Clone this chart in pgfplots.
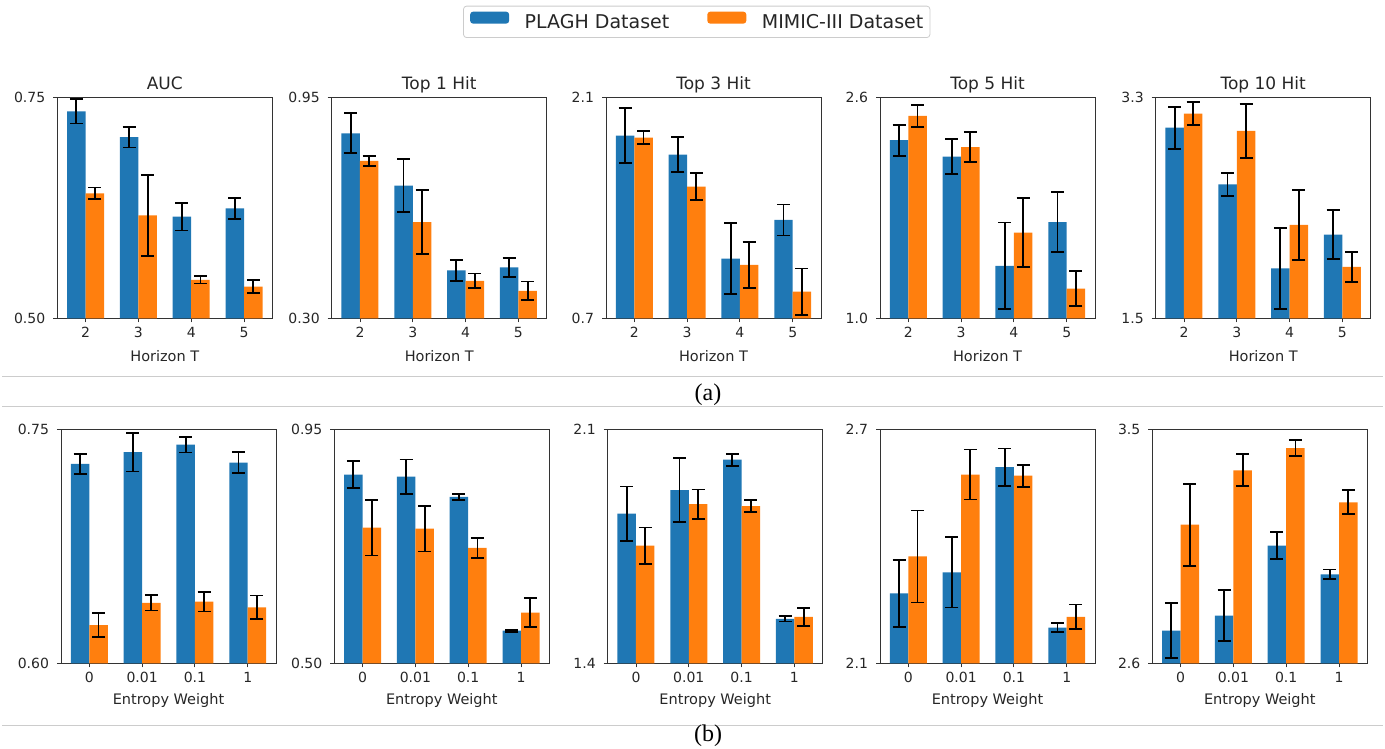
\documentclass[border=0pt]{standalone}
\usepackage{fontspec}
\setmainfont{DejaVu Sans}
\newfontfamily\capfont{Liberation Serif}
\usepackage{pgfplots}
\usepackage{pgfplotstable}
\pgfplotsset{compat=1.18}
\definecolor{tabblue}{HTML}{1F77B4}
\definecolor{taborange}{HTML}{FF7F0E}

% columns: x, PLAGH mean, PLAGH err, MIMIC mean, MIMIC err
\pgfplotstableread{
x b be o oe
0 0.734 0.0137 0.6414 0.0066
1 0.7048 0.0115 0.6165 0.046
2 0.615 0.0156 0.5434 0.004
3 0.6244 0.0117 0.5358 0.0074
}\tA
\pgfplotstableread{
x b be o oe
0 0.844 0.059 0.7627 0.0157
1 0.690 0.0775 0.583 0.0946
2 0.441 0.0304 0.410 0.022
3 0.450 0.0284 0.381 0.0275
}\tB
\pgfplotstableread{
x b be o oe
0 1.857 0.173 1.845 0.041
1 1.737 0.112 1.534 0.0855
2 1.078 0.224 1.038 0.146
3 1.323 0.098 0.869 0.146
}\tC
\pgfplotstableread{
x b be o oe
0 2.289 0.113 2.465 0.078
1 2.170 0.128 2.240 0.110
2 1.379 0.314 1.620 0.25
3 1.697 0.215 1.215 0.127
}\tD
\pgfplotstableread{
x b be o oe
0 3.053 0.171 3.167 0.092
1 2.591 0.092 3.026 0.22
2 1.907 0.331 2.260 0.288
3 2.181 0.200 1.918 0.122
}\tE
\pgfplotstableread{
x b be o oe
0 0.7278 0.0066 0.6244 0.0076
1 0.7353 0.0123 0.6387 0.0049
2 0.7402 0.0051 0.6395 0.0063
3 0.7286 0.0068 0.6359 0.0075
}\tF
\pgfplotstableread{
x b be o oe
0 0.8628 0.0256 0.7609 0.0535
1 0.859 0.033 0.759 0.044
2 0.820 0.0058 0.7218 0.0186
3 0.5628 0.002 0.5974 0.0276
}\tG
\pgfplotstableread{
x b be o oe
0 1.848 0.081 1.752 0.054
1 1.918 0.096 1.876 0.044
2 2.009 0.018 1.870 0.018
3 1.533 0.008 1.539 0.027
}\tH
\pgfplotstableread{
x b be o oe
0 2.2795 0.0855 2.374 0.118
1 2.333 0.090 2.584 0.064
2 2.603 0.0475 2.581 0.028
3 2.1915 0.012 2.219 0.032
}\tI
\pgfplotstableread{
x b be o oe
0 2.726 0.107 3.133 0.158
1 2.783 0.0987 3.342 0.0615
2 3.053 0.051 3.428 0.0314
3 2.942 0.019 3.219 0.046
}\tJ

\pgfplotsset{
  panel/.style={
    scale only axis, width=215pt,
    xmin=-0.535, xmax=3.535, xtick={0,1,2,3},
    tick pos=left, tick align=outside, major tick length=4pt,
    axis line style={black!80, line width=0.9pt},
    every tick/.style={black!80, line width=0.9pt},
    ticklabel style={font=\fontsize{14}{16}\selectfont, text=black!85},
    yticklabel style={xshift=-4.5pt},
    xticklabel style={yshift=-1.3pt},
    label style={font=\fontsize{14.5}{17}\selectfont, text=black!85},
    title style={font=\fontsize{17}{20}\selectfont, text=black!85, at={(axis description cs:0.5,1)}, anchor=base, yshift=2pt},
  },
  toprow/.style={panel, height=221pt, xticklabels={2,3,4,5}, xlabel={Horizon T},
    xlabel style={at={(axis description cs:0.5,0)}, anchor=base, yshift=-43.4pt}},
  botrow/.style={panel, height=234pt, xticklabels={0,0.01,0.1,1}, xlabel={Entropy Weight},
    xlabel style={at={(axis description cs:0.5,0)}, anchor=base, yshift=-41.7pt}},
  errs/.style={error bars/.cd, y dir=both, y explicit,
    error bar style={black, line width=1.8pt},
    error mark options={black, line width=1.8pt, mark size=6.5pt, rotate=90}},
  barsB/.style={ybar, bar width=0.35, bar shift=0, fill=tabblue, draw=none, errs},
  barsO/.style={ybar, bar width=0.35, bar shift=0, fill=taborange, draw=none, errs},
}
\newcommand{\bars}[1]{%
  \addplot[barsB] table[x expr=\thisrow{x}-0.175, y=b, y error=be] {#1};
  \addplot[barsO] table[x expr=\thisrow{x}+0.175, y=o, y error=oe] {#1};
}

\begin{document}
\begin{tikzpicture}[x=1pt,y=1pt]
\path[use as bounding box] (0,0) rectangle (1385,749);

% ---- top row ----
\begin{axis}[toprow, at={(57.3pt,430.7pt)}, anchor=south west,
  title={AUC}, ymin=0.5, ymax=0.75, ytick={0.5,0.75}, yticklabels={0.50,0.75},
  legend style={at={(axis description cs:2.974,1.3414)}, anchor=center,
    draw=black!20, rounded corners=3pt, line width=0.8pt,
    font=\fontsize{19}{22}\selectfont, text=black!85,
    legend columns=2, inner xsep=6.6pt, inner ysep=5.5pt,
    nodes={inner sep=0pt, text height=14pt, text depth=4pt},
    /tikz/every odd column/.append style={column sep=15.6pt},
    /tikz/every even column/.append style={column sep=38pt}},
  legend image code/.code={\fill[#1] (0pt,-0.6pt) rectangle (39pt,11.4pt);}]
\bars{\tA}
\legend{PLAGH Dataset, MIMIC-III Dataset}
\end{axis}

\begin{axis}[toprow, at={(331.7pt,430.7pt)}, anchor=south west,
  title={Top 1 Hit}, ymin=0.3, ymax=0.95, ytick={0.3,0.95}, yticklabels={0.30,0.95}]
\bars{\tB}
\end{axis}

\begin{axis}[toprow, at={(606pt,430.7pt)}, anchor=south west,
  title={Top 3 Hit}, ymin=0.7, ymax=2.1, ytick={0.7,2.1}, yticklabels={0.7,2.1}]
\bars{\tC}
\end{axis}

\begin{axis}[toprow, at={(880pt,430.7pt)}, anchor=south west,
  title={Top 5 Hit}, ymin=1.0, ymax=2.6, ytick={1.0,2.6}, yticklabels={1.0,2.6}]
\bars{\tD}
\end{axis}

\begin{axis}[toprow, at={(1155.7pt,430.7pt)}, anchor=south west,
  title={Top 10 Hit}, ymin=1.5, ymax=3.3, ytick={1.5,3.3}, yticklabels={1.5,3.3}]
\bars{\tE}
\end{axis}

% ---- bottom row ----
\begin{axis}[botrow, at={(61pt,85.7pt)}, anchor=south west,
  ymin=0.6, ymax=0.75, ytick={0.6,0.75}, yticklabels={0.60,0.75}]
\bars{\tF}
\end{axis}

\begin{axis}[botrow, at={(334.3pt,85.7pt)}, anchor=south west,
  ymin=0.5, ymax=0.95, ytick={0.5,0.95}, yticklabels={0.50,0.95}]
\bars{\tG}
\end{axis}

\begin{axis}[botrow, at={(607.7pt,85.7pt)}, anchor=south west,
  ymin=1.4, ymax=2.1, ytick={1.4,2.1}, yticklabels={1.4,2.1}]
\bars{\tH}
\end{axis}

\begin{axis}[botrow, at={(880pt,85.7pt)}, anchor=south west,
  ymin=2.1, ymax=2.7, ytick={2.1,2.7}, yticklabels={2.1,2.7}]
\bars{\tI}
\end{axis}

\begin{axis}[botrow, at={(1152.3pt,85.7pt)}, anchor=south west,
  ymin=2.6, ymax=3.5, ytick={2.6,3.5}, yticklabels={2.6,3.5}]
\bars{\tJ}
\end{axis}

% separators and sub-captions
\draw[black!20, line width=0.9pt] (2,373) -- (1383,373);
\draw[black!20, line width=0.9pt] (2,343) -- (1383,343);
\draw[black!20, line width=0.9pt] (2,24) -- (1383,24);
\node[anchor=base, inner sep=0pt, font=\capfont\fontsize{24}{26}\selectfont] at (708,348.5) {(a)};
\node[anchor=base, inner sep=0pt, font=\capfont\fontsize{24}{26}\selectfont] at (708,7.3) {(b)};
\end{tikzpicture}
\end{document}
